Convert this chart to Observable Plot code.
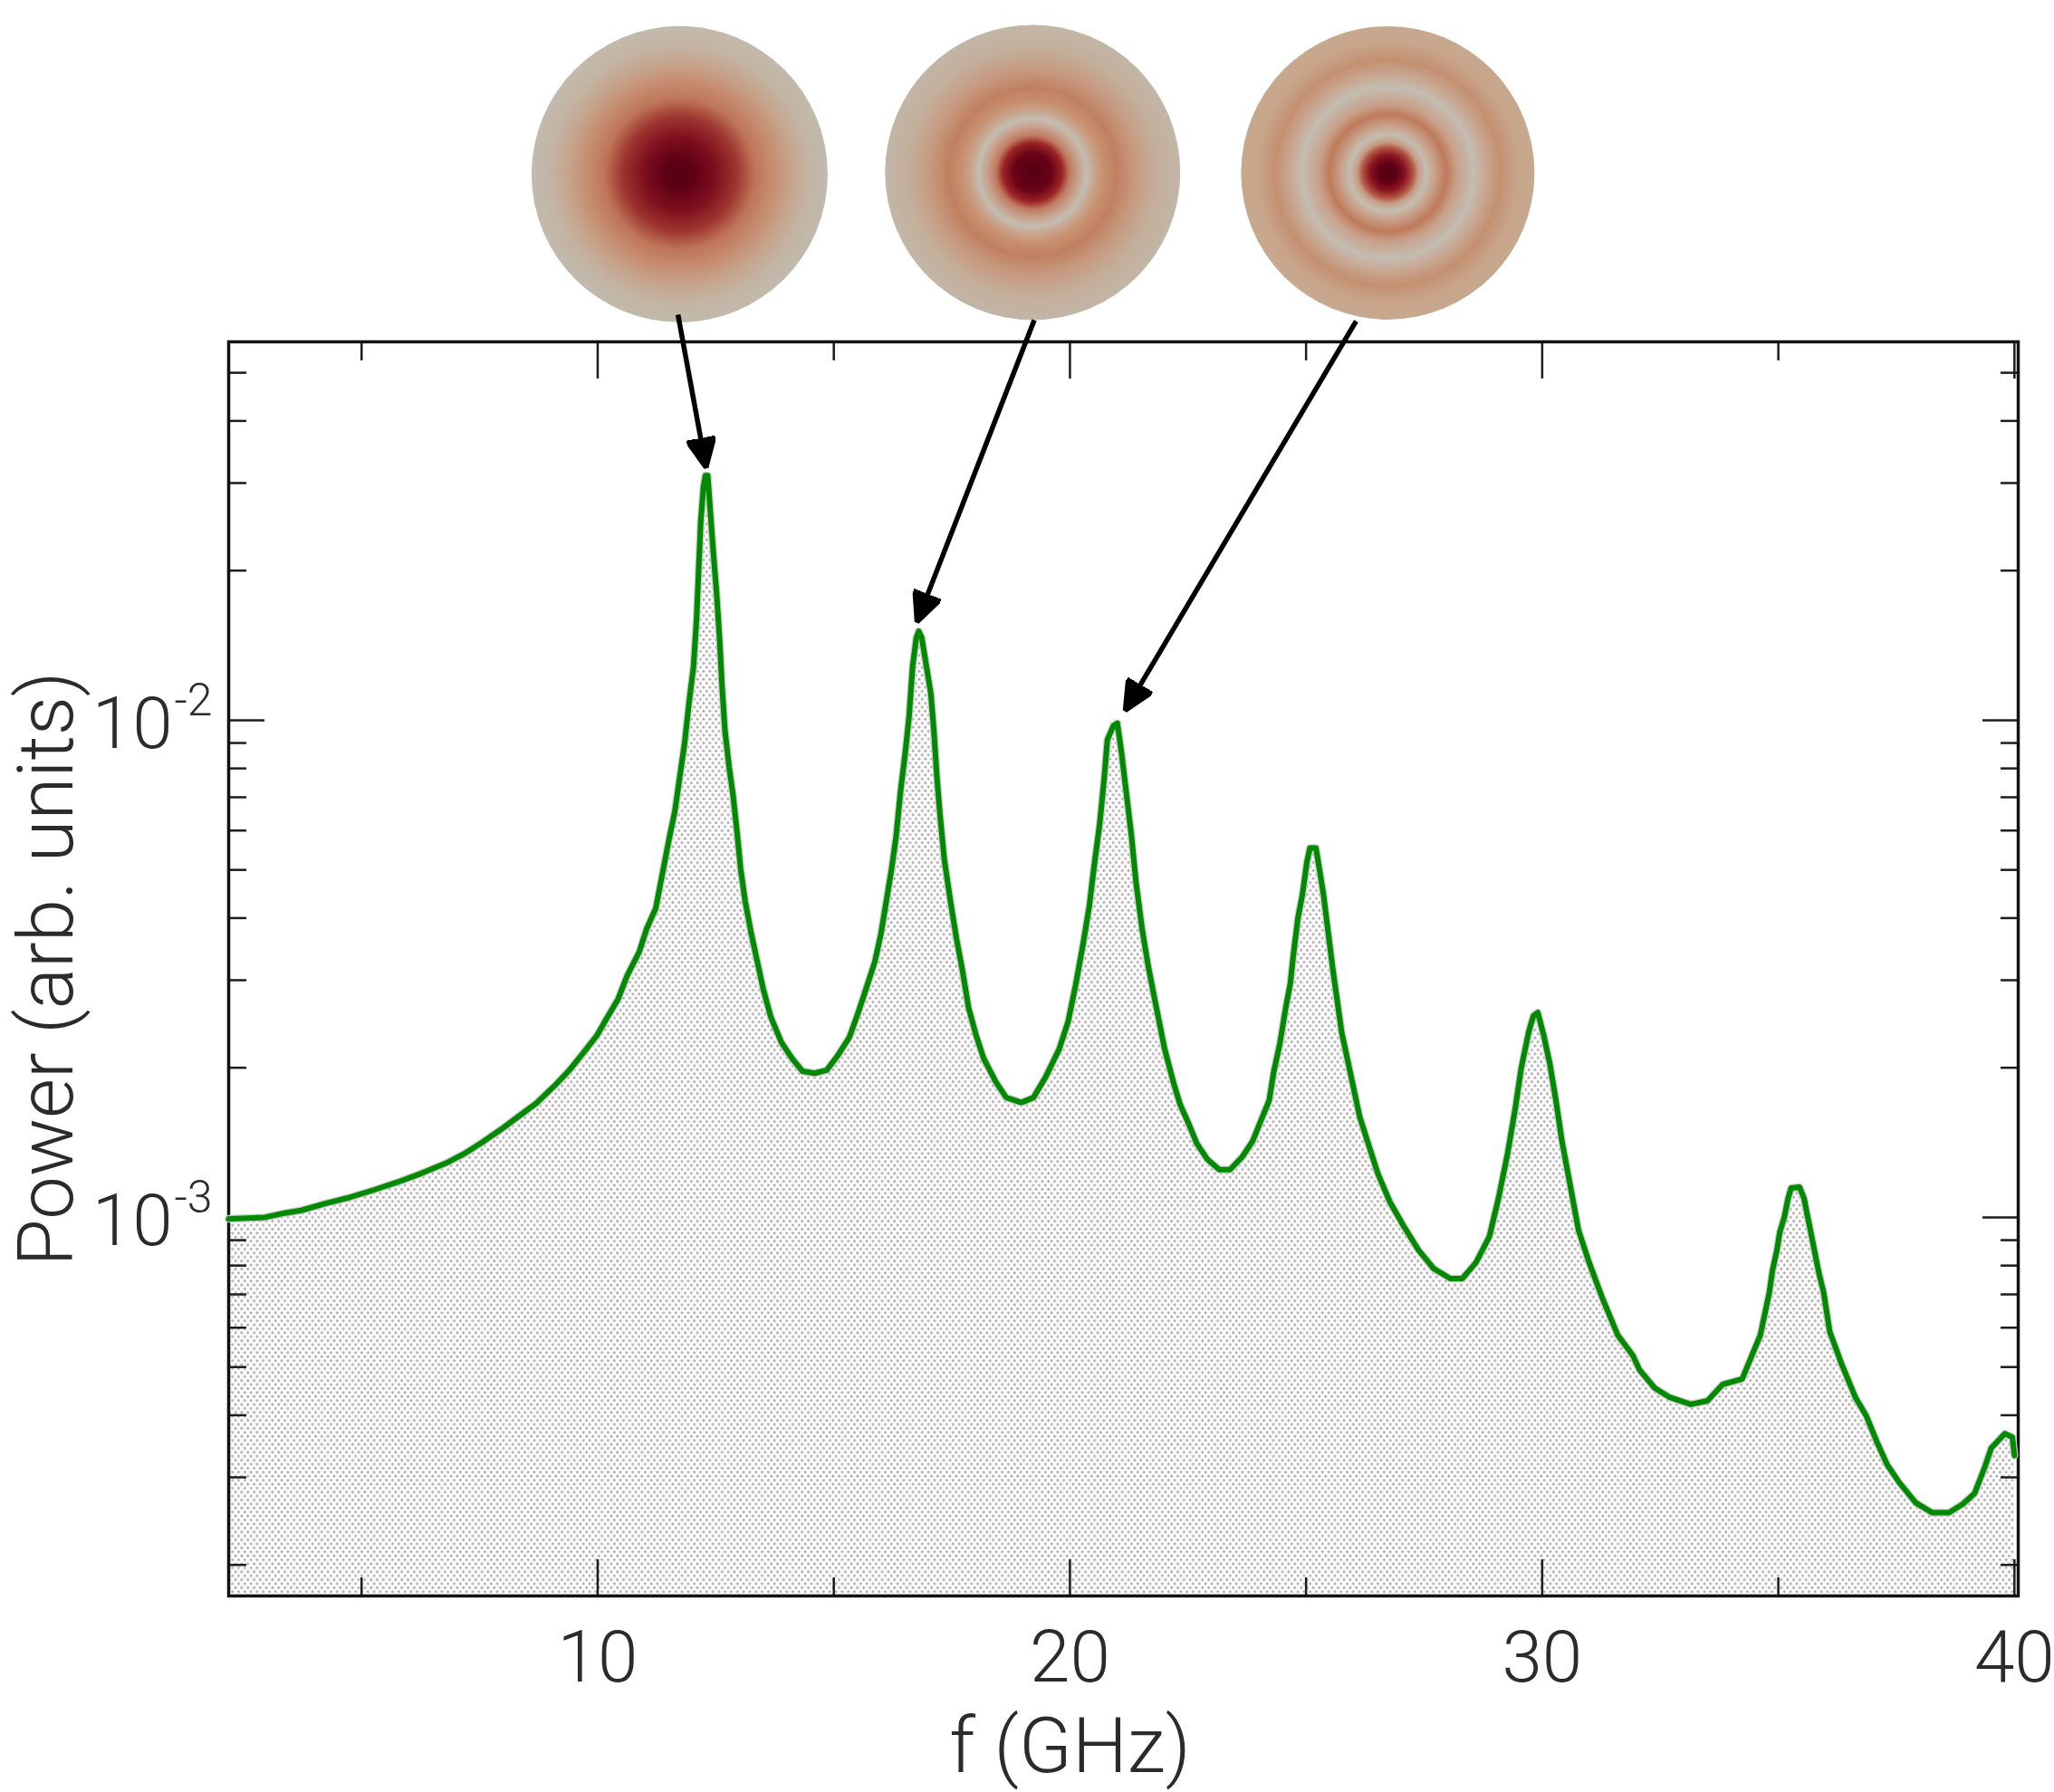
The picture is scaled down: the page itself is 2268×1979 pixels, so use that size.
<!DOCTYPE html>
<html lang="en">
  <head>
    <meta charset="UTF-8" />
    <title>Power spectrum</title>
    <style>
      html, body { margin: 0; background: #fff; }
      svg { display: block; }
    </style>
  </head>
  <body>
    <div id="graph"></div>

    <script src="https://cdn.jsdelivr.net/npm/d3@7"></script>
    <script src="https://cdn.jsdelivr.net/npm/@observablehq/plot@0.6"></script>

    <script>
      // spectrum: frequency in GHz, power as log10
      const freqGHz = [
        2.186, 2.953, 3.337, 3.72, 4.231, 4.743, 5.254, 5.765, 6.277, 6.788, 7.172, 7.555, 7.939, 8.322, 8.706, 9.089,
        9.409, 9.728, 9.984, 10.176, 10.431, 10.623, 10.879, 11.039, 11.23, 11.39, 11.518, 11.633, 11.742, 11.838,
        11.934, 12.03, 12.093, 12.145, 12.183, 12.24, 12.28, 12.33, 12.388, 12.452, 12.516, 12.58, 12.631, 12.695,
        12.784, 12.867, 12.95, 13.027, 13.123, 13.251, 13.378, 13.506, 13.666, 13.89, 14.114, 14.337, 14.593, 14.849,
        15.072, 15.328, 15.52, 15.68, 15.871, 15.999, 16.095, 16.223, 16.319, 16.415, 16.511, 16.594, 16.67, 16.747,
        16.798, 16.862, 16.958, 17.054, 17.118, 17.182, 17.246, 17.341, 17.469, 17.597, 17.725, 17.853, 18.013, 18.172,
        18.428, 18.652, 18.971, 19.227, 19.483, 19.77, 19.962, 20.122, 20.282, 20.41, 20.505, 20.633, 20.729, 20.793,
        20.921, 21.004, 21.094, 21.176, 21.304, 21.4, 21.528, 21.656, 21.848, 22.007, 22.199, 22.333, 22.525, 22.684,
        22.908, 23.164, 23.387, 23.643, 23.867, 24.059, 24.218, 24.314, 24.442, 24.57, 24.666, 24.73, 24.826, 24.922,
        25.017, 25.081, 25.209, 25.273, 25.369, 25.465, 25.561, 25.657, 25.752, 25.88, 26.008, 26.136, 26.328, 26.52,
        26.775, 27.063, 27.382, 27.702, 28.054, 28.309, 28.597, 28.884, 29.076, 29.268, 29.428, 29.556, 29.715, 29.811,
        29.907, 30.035, 30.163, 30.291, 30.419, 30.578, 30.77, 30.994, 31.281, 31.601, 31.921, 32.062, 32.381, 32.701,
        33.148, 33.5, 33.82, 34.235, 34.427, 34.618, 34.81, 34.874, 34.97, 35.033, 35.129, 35.206, 35.27, 35.449,
        35.545, 35.609, 35.673, 35.736, 35.8, 35.864, 35.96, 36.089, 36.344, 36.632, 36.856, 37.111, 37.303, 37.559,
        37.91, 38.262, 38.613, 38.901, 39.157, 39.38, 39.508, 39.796, 39.956, 40.0
      ];
      const logPower = [
        -3.003, -3.0, -2.992, -2.986, -2.972, -2.96, -2.945, -2.929, -2.911, -2.891, -2.872, -2.849, -2.824, -2.797, -2.77, -2.735,
        -2.703, -2.665, -2.634, -2.602, -2.561, -2.514, -2.466, -2.419, -2.378, -2.299, -2.236, -2.184, -2.111, -2.048,
        -1.965, -1.891, -1.797, -1.682, -1.599, -1.53, -1.508, -1.508, -1.584, -1.667, -1.742, -1.835, -1.928, -2.021,
        -2.095, -2.151, -2.225, -2.299, -2.364, -2.429, -2.485, -2.541, -2.597, -2.648, -2.68, -2.706, -2.71, -2.704,
        -2.676, -2.638, -2.587, -2.541, -2.485, -2.429, -2.374, -2.299, -2.234, -2.141, -2.067, -1.992, -1.89, -1.834,
        -1.821, -1.834, -1.89, -1.946, -2.02, -2.113, -2.188, -2.281, -2.364, -2.439, -2.504, -2.578, -2.634, -2.68,
        -2.727, -2.759, -2.769, -2.759, -2.718, -2.662, -2.606, -2.532, -2.448, -2.374, -2.299, -2.206, -2.113, -2.039,
        -2.011, -2.006, -2.067, -2.132, -2.234, -2.327, -2.42, -2.494, -2.587, -2.662, -2.731, -2.773, -2.814, -2.851,
        -2.883, -2.904, -2.904, -2.879, -2.847, -2.802, -2.765, -2.708, -2.652, -2.578, -2.53, -2.473, -2.399, -2.351,
        -2.286, -2.257, -2.257, -2.294, -2.351, -2.424, -2.497, -2.562, -2.627, -2.684, -2.741, -2.798, -2.855, -2.912,
        -2.969, -3.017, -3.066, -3.103, -3.123, -3.123, -3.091, -3.038, -2.961, -2.871, -2.782, -2.7, -2.627, -2.595,
        -2.588, -2.635, -2.692, -2.765, -2.847, -2.928, -3.026, -3.091, -3.164, -3.237, -3.278, -3.307, -3.343, -3.362,
        -3.376, -3.369, -3.336, -3.325, -3.281, -3.237, -3.151, -3.108, -3.066, -3.029, -2.999, -2.962, -2.941, -2.939,
        -2.962, -2.993, -3.023, -3.053, -3.084, -3.114, -3.151, -3.23, -3.296, -3.362, -3.398, -3.457, -3.497, -3.533,
        -3.574, -3.594, -3.594, -3.577, -3.555, -3.5, -3.464, -3.435, -3.442, -3.479
      ];

      const xDomain = [2.186, 40.08];
      const yDomain = [1.732e-4, 0.0577];

      const xMajor = [10, 20, 30, 40];
      const xMinor = [5, 15, 25, 35];
      const yMajor = [1e-3, 1e-2];
      const yMinor = [
        2e-4, 3e-4, 4e-4, 5e-4, 6e-4, 7e-4, 8e-4, 9e-4,
        2e-3, 3e-3, 4e-3, 5e-3, 6e-3, 7e-3, 8e-3, 9e-3,
        2e-2, 3e-2, 4e-2, 5e-2
      ];
      const yExponents = ["-3", "-2"];

      // mode pictures sit above the frame, at these f / power positions
      const modeF = [11.735, 19.21, 26.73];
      const modeLog = [-0.9016, -0.898, -0.899];
      const modeRadius = [163.5, 163, 162];

      // arrows from each mode picture down to its peak
      const arrowF1 = [11.7, 19.245, 26.06];
      const arrowLog1 = [-1.184, -1.195, -1.197];
      const arrowF2 = [12.27, 16.81, 21.24];
      const arrowLog2 = [-1.479, -1.79, -1.969];

      const modeStops = [
        [[0, "#560012"], [0.1, "#5f0015"], [0.245, "#7f0f1e"], [0.385, "#9d3530"], [0.51, "#bf7558"],
         [0.63, "#c68d70"], [0.75, "#c6a48c"], [0.875, "#c3b4a4"], [1, "#c1baac"]],
        [[0, "#560012"], [0.13, "#6a0318"], [0.2, "#9a2424"], [0.25, "#c07a60"], [0.31, "#c8a08c"],
         [0.365, "#c3bdb1"], [0.42, "#c8a48c"], [0.48, "#c89070"], [0.57, "#c08060"], [0.7, "#c79a80"],
         [0.84, "#c3ae9a"], [1, "#c3b6a7"]],
        [[0, "#560012"], [0.06, "#5c0015"], [0.12, "#8a1420"], [0.17, "#b05040"], [0.21, "#c89c84"],
         [0.26, "#c3bdb1"], [0.31, "#c9a590"], [0.4, "#bf7a5a"], [0.47, "#c8a08a"], [0.585, "#c3bdb1"],
         [0.66, "#c9a995"], [0.77, "#c39070"], [0.885, "#c8a48a"], [1, "#c6a98f"]]
      ];

      const spectrum = freqGHz.map((f, i) => ({ f, p: 10 ** logPower[i] }));
      const modes = modeF.map((f, i) => ({ f, p: 10 ** modeLog[i], r: modeRadius[i], id: `mode${i}` }));
      const arrows = arrowF1.map((f, i) => ({
        x1: f,
        y1: 10 ** arrowLog1[i],
        x2: arrowF2[i],
        y2: 10 ** arrowLog2[i]
      }));

      const font = "Roboto, 'Liberation Sans', sans-serif";
      const ink = "#2b2b2b";
      const tickColor = "#1c1c1c";

      const arrowHead = () => {
        const ns = "http://www.w3.org/2000/svg";
        const marker = document.createElementNS(ns, "marker");
        marker.setAttribute("viewBox", "-33 -16 40 32");
        marker.setAttribute("markerWidth", 40);
        marker.setAttribute("markerHeight", 32);
        marker.setAttribute("markerUnits", "userSpaceOnUse");
        marker.setAttribute("refX", -7);
        marker.setAttribute("refY", 0);
        marker.setAttribute("orient", "auto");
        const path = document.createElementNS(ns, "path");
        path.setAttribute("d", "M-33,-15.5L0,0L-33,15.5L-29,0Z");
        path.setAttribute("fill", "#000");
        marker.append(path);
        return marker;
      };

      const tickAxes = (axis, anchors, ticks, size) =>
        anchors.map((anchor) =>
          axis({ anchor, ticks, tickSize: -size, text: null, label: null, stroke: tickColor, strokeWidth: 2.5 })
        );

      const plot = Plot.plot({
        width: 2268,
        height: 1979,
        marginLeft: 252,
        marginRight: 40,
        marginTop: 377,
        marginBottom: 217,
        x: { domain: xDomain, axis: null },
        y: { type: "log", domain: yDomain, axis: null },
        style: { background: "#fff", fontFamily: font },
        marks: [
          Plot.areaY(spectrum, { x: "f", y1: yDomain[0], y2: "p", fill: "url(#stipple)" }),
          ...tickAxes(Plot.axisX, ["bottom", "top"], xMajor, 40),
          ...tickAxes(Plot.axisX, ["bottom", "top"], xMinor, 20),
          ...tickAxes(Plot.axisY, ["left", "right"], yMajor, 40),
          ...tickAxes(Plot.axisY, ["left", "right"], yMinor, 20),
          Plot.frame({ stroke: "#111", strokeWidth: 3.5 }),
          Plot.line(spectrum, { x: "f", y: "p", stroke: "#cacaca", strokeWidth: 8.5 }),
          Plot.line(spectrum, { x: "f", y: "p", stroke: "#008a00", strokeWidth: 6 }),
          Plot.text(xMajor, {
            x: (d) => d,
            text: (d) => `${d}`,
            frameAnchor: "bottom",
            lineAnchor: "bottom",
            dy: 94,
            fontSize: 80,
            fontWeight: 300,
            fill: ink
          }),
          Plot.text(["f (GHz)"], {
            x: [20],
            frameAnchor: "bottom",
            lineAnchor: "bottom",
            dy: 194,
            fontSize: 86,
            fontWeight: 300,
            fill: ink
          }),
          Plot.text(yMajor, {
            y: (d) => d,
            text: () => "10",
            frameAnchor: "left",
            lineAnchor: "bottom",
            textAnchor: "end",
            dx: -62,
            dy: 31,
            fontSize: 80,
            fontWeight: 300,
            fill: ink
          }),
          Plot.text(yMajor, {
            y: (d) => d,
            text: (d, i) => yExponents[i],
            frameAnchor: "left",
            lineAnchor: "bottom",
            textAnchor: "start",
            dx: -60,
            dy: -5,
            fontSize: 50,
            fontWeight: 300,
            fill: ink
          }),
          Plot.text(["Power (arb. units)"], {
            frameAnchor: "left",
            textAnchor: "middle",
            lineAnchor: "bottom",
            rotate: -90,
            dx: -173,
            fontSize: 85,
            fontWeight: 300,
            fill: ink
          }),
          ...modes.map((d) => Plot.dot([d], { x: "f", y: "p", r: d.r, fill: `url(#${d.id})` })),
          Plot.link(arrows, {
            x1: "x1",
            y1: "y1",
            x2: "x2",
            y2: "y2",
            stroke: "#000",
            strokeWidth: 5.5,
            markerEnd: arrowHead
          })
        ]
      });

      // stipple and radial fills for the marks above
      const defs = d3.select(plot).insert("defs", ":first-child");
      const stipple = defs
        .append("pattern")
        .attr("id", "stipple")
        .attr("patternUnits", "userSpaceOnUse")
        .attr("width", 6.8)
        .attr("height", 8.8);
      for (const [cx, cy, core] of [[1.7, 2.2, "#8f7070"], [5.1, 6.6, "#8c8c8c"]]) {
        stipple.append("circle").attr("cx", cx).attr("cy", cy).attr("r", 1.9).attr("fill", "#d4d3d3");
        stipple.append("circle").attr("cx", cx).attr("cy", cy).attr("r", 0.8).attr("fill", core);
      }
      modeStops.forEach((stops, i) => {
        const gradient = defs.append("radialGradient").attr("id", `mode${i}`);
        for (const [offset, color] of stops) {
          gradient.append("stop").attr("offset", offset).attr("stop-color", color);
        }
      });

      document.querySelector("#graph").append(plot);
    </script>
  </body>
</html>
